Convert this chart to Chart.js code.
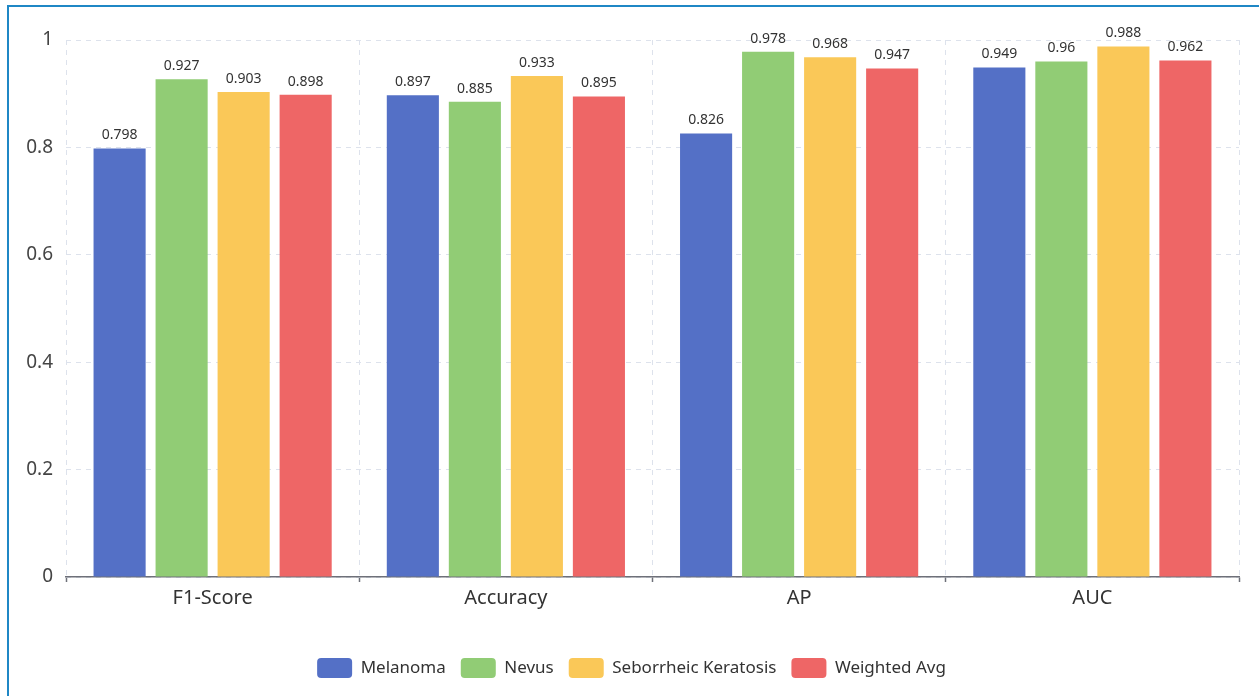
<!DOCTYPE html>
<html>
<head>
<meta charset="utf-8">
<script src="https://cdn.jsdelivr.net/npm/chart.js@4/dist/chart.umd.min.js"></script>
<style>
  html, body { margin: 0; padding: 0; background: #fff; overflow: hidden; }
  body { width: 1259px; height: 696px; position: relative; }
  #frame {
    position: absolute; left: 7px; top: 5px; width: 1400px; height: 800px;
    border-left: 2px solid #1f87c5; border-top: 2px solid #1f87c5;
    box-sizing: border-box;
  }
  #wrap { position: absolute; left: 0; top: 0; width: 1259px; height: 696px; }
</style>
</head>
<body>
<div id="frame"></div>
<div id="wrap"><canvas id="chart" width="1259" height="696"></canvas></div>
<script>
// Metrics on the x axis
const metrics = ['F1-Score', 'Accuracy', 'AP', 'AUC'];

// Per-class scores, one value per metric
const melanoma = [0.798, 0.897, 0.826, 0.949];
const nevus = [0.927, 0.885, 0.978, 0.96];
const seborrheicKeratosis = [0.903, 0.933, 0.968, 0.988];
const weightedAvg = [0.898, 0.895, 0.947, 0.962];

const seriesNames = ['Melanoma', 'Nevus', 'Seborrheic Keratosis', 'Weighted Avg'];
const seriesColors = ['#5470c6', '#91cc75', '#fac858', '#ee6666'];
const seriesValues = [melanoma, nevus, seborrheicKeratosis, weightedAvg];

const FONT = '"Noto Sans", "Open Sans", sans-serif';

// Writes each bar's value just above it
const valueLabels = {
  id: 'valueLabels',
  afterDatasetsDraw(chart) {
    const ctx = chart.ctx;
    ctx.save();
    ctx.font = '14px ' + FONT;
    ctx.fillStyle = '#333';
    ctx.textAlign = 'center';
    ctx.textBaseline = 'bottom';
    chart.data.datasets.forEach((ds, i) => {
      const meta = chart.getDatasetMeta(i);
      meta.data.forEach((bar, j) => {
        ctx.fillText(String(ds.data[j]), bar.x, bar.y - 6);
      });
    });
    ctx.restore();
  }
};

new Chart(document.getElementById('chart'), {
  type: 'bar',
  data: {
    labels: metrics,
    datasets: seriesNames.map((name, i) => ({
      label: name,
      data: seriesValues[i],
      backgroundColor: seriesColors[i],
      borderWidth: 0,
      categoryPercentage: 0.846,
      barPercentage: 0.84
    }))
  },
  options: {
    responsive: false,
    animation: false,
    layout: { padding: { left: 24, right: 20, top: 40, bottom: 8 } },
    plugins: {
      tooltip: { enabled: false },
      legend: {
        position: 'bottom',
        labels: {
          boxWidth: 35,
          boxHeight: 20,
          useBorderRadius: true,
          borderRadius: 4,
          padding: 15,
          color: '#333',
          font: { family: FONT, size: 17 }
        }
      }
    },
    scales: {
      x: {
        afterFit(scale) { scale.height += 29; },
        grid: {
          offset: true,
          color: '#dde2ec',
          lineWidth: 1,
          drawTicks: true,
          tickLength: 5,
          tickColor: '#6e7079',
          tickWidth: 1.5,
          tickBorderDash: []
        },
        border: { display: true, color: '#6e7079', width: 1.5, dash: [5, 5] },
        ticks: {
          color: '#333',
          padding: 4,
          font: { family: FONT, size: 20 }
        }
      },
      y: {
        min: 0,
        max: 1,
        afterFit(scale) { scale.width = 42; },
        grid: { color: '#dde2ec', lineWidth: 1, drawTicks: false },
        border: { display: false, dash: [5, 5] },
        ticks: {
          stepSize: 0.2,
          padding: 13,
          color: '#444',
          font: { family: FONT, size: 19 },
          callback: (v) => String(Math.round(v * 10) / 10)
        }
      }
    }
  },
  plugins: [valueLabels]
});
</script>
</body>
</html>
